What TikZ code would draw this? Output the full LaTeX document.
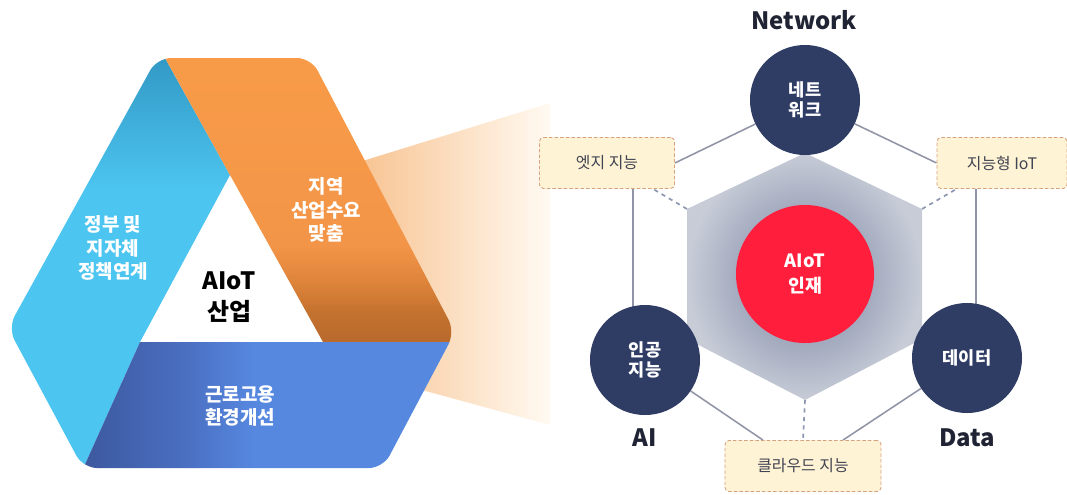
\documentclass[tikz,border=0pt]{standalone}
\usepackage{fontspec}
\setmainfont{Noto Sans CJK KR}
\usetikzlibrary{calc,backgrounds}
\definecolor{navy}{HTML}{2F3C64}
\definecolor{alert}{HTML}{FF1F3D}
\definecolor{sky}{HTML}{4CC5F0}
\definecolor{skydark}{HTML}{2F93BF}
\definecolor{otop}{HTML}{F99C48}
\definecolor{omid}{HTML}{F39548}
\definecolor{olow}{HTML}{DE843B}
\definecolor{ofold}{HTML}{C4722F}
\definecolor{obot}{HTML}{B8692C}
\definecolor{bdark}{HTML}{3E5BA2}
\definecolor{bmid}{HTML}{4A6EC0}
\definecolor{blite}{HTML}{5688E0}
\definecolor{hexin}{HTML}{A3AABE}
\definecolor{hexout}{HTML}{C7CCD7}
\definecolor{boxfill}{HTML}{FFF3D5}
\definecolor{boxline}{HTML}{D5A27E}
\definecolor{wiregray}{HTML}{9094A6}
\definecolor{linkgray}{HTML}{8D97B0}
\definecolor{ink}{HTML}{1F2333}
\definecolor{beamA}{HTML}{F7BE88}
\definecolor{beamB}{HTML}{FFFAF2}
\pgfdeclareverticalshading{skyfold}{100bp}{color(0bp)=(sky); color(25bp)=(sky); color(58bp)=(sky); color(75bp)=(skydark); color(100bp)=(skydark)}
\pgfdeclareverticalshading{orangefold}{100bp}{color(0bp)=(obot); color(25bp)=(obot); color(30bp)=(ofold); color(35bp)=(olow); color(41bp)=(omid); color(75bp)=(otop); color(100bp)=(otop)}
\pgfdeclarehorizontalshading{bluefold}{100bp}{color(0bp)=(bdark); color(27bp)=(bdark); color(38bp)=(bmid); color(47bp)=(blite); color(100bp)=(blite)}
\pgfdeclareradialshading{hexglow}{\pgfpoint{0bp}{0bp}}{color(0bp)=(hexin); color(14bp)=(hexin); color(25bp)=(hexout); color(50bp)=(hexout)}
\tikzset{>=stealth}

\begin{document}
\begin{tikzpicture}[x=0.025cm, y=-0.025cm,
  band/.style={text=white, font=\bfseries\fontsize{13.5}{16.5}\selectfont, align=center},
  hub/.style={text=black, font=\bfseries\fontsize{17}{22}\selectfont, align=center},
  pillar/.style={circle, fill=navy, minimum size=2.75cm, inner sep=0pt, text=white, font=\bfseries\fontsize{12.5}{14.5}\selectfont, align=center},
  core/.style={circle, fill=alert, minimum size=3.45cm, inner sep=0pt, text=white, font=\bfseries\fontsize{13}{17.5}\selectfont, align=center},
  tag/.style={draw=boxline, fill=boxfill, dash pattern=on 2.5pt off 1.5pt, line width=0.6pt, rounded corners=0.1cm, minimum width=3.375cm, minimum height=1.275cm, text=ink!85, font=\fontsize{11.3}{13}\selectfont},
  caption/.style={text=ink, font=\bfseries\fontsize{17}{20}\selectfont},
  wire/.style={draw=wiregray, line width=1.1pt},
  link/.style={draw=linkgray, line width=1.2pt, dash pattern=on 3pt off 3pt}]
\useasboundingbox (0,0) rectangle (1067,494);
\coordinate (T) at (230,175);
\coordinate (L) at (140,342);
\coordinate (R) at (323,342);
\shade[left color=beamA, right color=beamB] (340,168) -- (550,103) -- (550,425) -- (400,384) -- cycle;
\begin{scope}
\clip[rounded corners=0.35cm] (157,58) -- (311,58) -- (455,332) -- (383,468) -- (83,468) -- (8,328) -- cycle;
\shade[shading=skyfold] (-10,40) -- (155,40) -- (T) -- (L) -- (78,480) -- (-10,480) -- cycle;
\shade[shading=orangefold] (155,40) -- (480,40) -- (480,342) -- (R) -- (T) -- cycle;
\shade[shading=bluefold] (L) -- (480,342) -- (480,480) -- (78,480) -- cycle;
\end{scope}
\node[band] (gov) at (113,248) {정부 및\\지자체\\정책연계};
\node[band] (local) at (326,210) {지역\\산업수요\\맞춤};
\node[band] (work) at (240,406) {근로고용\\환경개선};
\node[hub] (ind) at (229,297) {AIoT\\산업};

\coordinate (h1) at (805,153);
\coordinate (h2) at (922,209);
\coordinate (h3) at (922,339);
\coordinate (h4) at (805,400);
\coordinate (h5) at (687,339);
\coordinate (h6) at (687,209);
\node[core] (core) at (805,274) {AIoT\\인재};
\node[pillar] (net) at (805,100) {네트\\워크};
\node[pillar] (ai) at (645,360) {인공\\지능};
\node[pillar] (data) at (967,358) {데이터};
\node[tag] (edge) at (607,163) {엣지 지능};
\node[tag, minimum width=3.25cm] (iot) at (1002,163) {지능형 IoT};
\node[tag, minimum width=3.9cm] (cloud) at (803,466) {클라우드 지능};
\node[caption] (lnet) at (804,20) {Network};
\node[caption] (lai) at (645,438) {AI};
\node[caption] (ldata) at (967,438) {Data};
\begin{scope}[on background layer]
\shade[shading=hexglow] (h1) -- (h2) -- (h3) -- (h4) -- (h5) -- (h6) -- cycle;
\draw[wire] (net) -- (edge.east);
\draw[wire] (net) -- (iot.west);
\draw[wire] ($(edge.south)+(26,0)$) -- ($(ai.center)+(-12,0)$);
\draw[wire] ($(iot.south)+(-26,0)$) -- ($(data.center)+(9,0)$);
\draw[wire] (ai) -- ($(cloud.north)+(-40,0)$);
\draw[wire] (data) -- ($(cloud.north)+(40,0)$);
\draw[link] (h6) -- ($(edge.south east)+(-22,0)$);
\draw[link] (h2) -- ($(iot.south west)+(20,0)$);
\draw[link] (h4) -- (cloud.north);
\end{scope}
\end{tikzpicture}
\end{document}
